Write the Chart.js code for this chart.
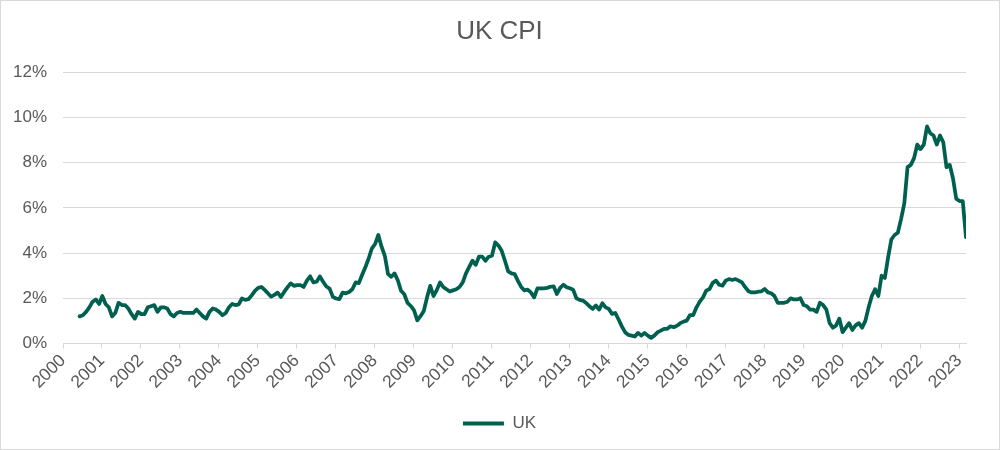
<!DOCTYPE html>
<html>
<head>
<meta charset="utf-8">
<script src="https://cdn.jsdelivr.net/npm/chart.js@4"></script>
<style>
  html, body { margin: 0; padding: 0; background: #fff; }
  #wrap { width: 1000px; height: 450px; position: relative; }
</style>
</head>
<body>
<div id="wrap"><canvas id="c" width="1000" height="450"></canvas></div>
<script>
// ---- data ----
const chartTitle = 'UK CPI';
const seriesName = 'UK';
const yearLabels = ['2000','2001','2002','2003','2004','2005','2006','2007','2008','2009','2010','2011',
                    '2012','2013','2014','2015','2016','2017','2018','2019','2020','2021','2022','2023'];
const firstYear = 2001;   // monthly series starts January 2001
const yTicks = [0, 2, 4, 6, 8, 10, 12];
// annual inflation rate, %, monthly
const ukValues = [
  // 2001
  1.2, 1.25, 1.4, 1.6, 1.85, 1.95, 1.75, 2.1, 1.75, 1.6, 1.2, 1.35,
  // 2002
  1.8, 1.7, 1.7, 1.55, 1.3, 1.1, 1.4, 1.3, 1.3, 1.6, 1.65, 1.7,
  // 2003
  1.4, 1.6, 1.6, 1.55, 1.3, 1.2, 1.35, 1.4, 1.35, 1.35, 1.35, 1.35,
  // 2004
  1.5, 1.35, 1.2, 1.1, 1.4, 1.55, 1.5, 1.4, 1.25, 1.35, 1.6, 1.75,
  // 2005
  1.7, 1.73, 1.99, 1.93, 1.96, 2.13, 2.33, 2.46, 2.5, 2.37, 2.22, 2.07,
  // 2006
  2.15, 2.25, 2.06, 2.28, 2.48, 2.66, 2.55, 2.58, 2.58, 2.5, 2.78, 2.97,
  // 2007
  2.7, 2.73, 2.97, 2.73, 2.52, 2.43, 2.06, 1.99, 1.96, 2.25, 2.22, 2.28,
  // 2008
  2.4, 2.7, 2.67, 3.03, 3.37, 3.75, 4.2, 4.4, 4.8, 4.28, 3.88, 3.07,
  // 2009
  2.95, 3.1, 2.8, 2.33, 2.18, 1.8, 1.66, 1.47, 1.02, 1.21, 1.44, 2.03,
  // 2010
  2.55, 2.1, 2.36, 2.7, 2.5, 2.4, 2.3, 2.35, 2.4, 2.5, 2.7, 3.1,
  // 2011
  3.39, 3.66, 3.48, 3.84, 3.84, 3.66, 3.84, 3.88, 4.47, 4.33, 4.1, 3.66,
  // 2012
  3.19, 3.1, 3.07, 2.77, 2.5, 2.35, 2.38, 2.26, 2.04, 2.44, 2.44, 2.44,
  // 2013
  2.46, 2.51, 2.53, 2.19, 2.46, 2.6, 2.49, 2.44, 2.38, 2.0, 1.93, 1.9,
  // 2014
  1.79, 1.65, 1.53, 1.68, 1.5, 1.78, 1.6, 1.53, 1.31, 1.35, 1.06, 0.76,
  // 2015
  0.5, 0.38, 0.35, 0.31, 0.47, 0.35, 0.47, 0.35, 0.25, 0.35, 0.5, 0.57,
  // 2016
  0.65, 0.65, 0.76, 0.72, 0.79, 0.9, 0.97, 1.01, 1.26, 1.26, 1.6, 1.85,
  // 2017
  2.04, 2.34, 2.41, 2.68, 2.78, 2.6, 2.56, 2.78, 2.85, 2.81, 2.85, 2.78,
  // 2018
  2.7, 2.49, 2.31, 2.26, 2.26, 2.29, 2.31, 2.41, 2.26, 2.22, 2.1, 1.8,
  // 2019
  1.8, 1.8, 1.85, 2.0, 1.95, 1.95, 2.0, 1.7, 1.65, 1.5, 1.5, 1.4,
  // 2020
  1.8, 1.7, 1.5, 0.9, 0.7, 0.8, 1.1, 0.5, 0.7, 0.9, 0.6, 0.8,
  // 2021
  0.9, 0.7, 1.0, 1.6, 2.1, 2.4, 2.1, 3.0, 2.9, 3.8, 4.6, 4.8,
  // 2022
  4.9, 5.5, 6.2, 7.8, 7.9, 8.2, 8.8, 8.6, 8.8, 9.6, 9.3, 9.2,
  // 2023
  8.8, 9.2, 8.9, 7.8, 7.9, 7.3, 6.4, 6.3, 6.3, 4.7
];

// ---- styling / layout ----
const lineColor = '#00604F';
const textColor = '#595959';
const gridColor = '#D9D9D9';
const fontFamily = '"Liberation Sans", Arial, Helvetica, sans-serif';
const tickShift = 0.574; // year labels sit ~7 months after the year start on this axis

const points = ukValues.map((v, i) => ({ x: firstYear + i / 12, y: v }));
const xMin = +yearLabels[0] + tickShift;
const xMax = firstYear + (ukValues.length - 1) / 12;

const frame = {
  id: 'frame',
  beforeDraw(chart) {
    const ctx = chart.ctx;
    ctx.save();
    ctx.fillStyle = '#fff';
    ctx.fillRect(0, 0, chart.width, chart.height);
    ctx.restore();
  },
  afterDraw(chart) {
    const ctx = chart.ctx;
    ctx.save();
    ctx.strokeStyle = gridColor;
    ctx.lineWidth = 1;
    ctx.strokeRect(0.5, 0.5, chart.width - 1, chart.height - 1);
    ctx.restore();
  }
};

new Chart(document.getElementById('c'), {
  type: 'line',
  data: {
    datasets: [{
      label: seriesName,
      data: points,
      borderColor: lineColor,
      backgroundColor: lineColor,
      borderWidth: 3.75,
      pointRadius: 0,
      tension: 0,
      borderJoinStyle: 'round',
      borderCapStyle: 'round',
      fill: false
    }]
  },
  options: {
    responsive: false,
    animation: false,
    devicePixelRatio: 1,
    layout: { padding: { left: 13, right: 14, top: 0, bottom: 8 } },
    plugins: {
      title: {
        display: true,
        text: chartTitle,
        color: textColor,
        font: { family: fontFamily, size: 26, weight: 'normal' },
        padding: { top: 16, bottom: 25 }
      },
      legend: {
        display: true,
        position: 'bottom',
        labels: {
          color: textColor,
          font: { family: fontFamily, size: 17 },
          boxWidth: 41,
          boxHeight: 4,
          useBorderRadius: true,
          borderRadius: 2,
          padding: 10,
          generateLabels(chart) {
            return chart.data.datasets.map((ds, i) => ({
              text: ds.label,
              fillStyle: ds.borderColor,
              strokeStyle: ds.borderColor,
              lineWidth: 0,
              fontColor: textColor,
              datasetIndex: i,
              hidden: false
            }));
          }
        }
      },
      tooltip: { enabled: false }
    },
    scales: {
      x: {
        type: 'linear',
        min: xMin,
        max: xMax,
        afterBuildTicks(axis) {
          axis.ticks = yearLabels.map(y => ({ value: +y + tickShift }));
        },
        afterFit(axis) { axis.height = 61.5; },
        ticks: {
          color: textColor,
          font: { family: fontFamily, size: 17.5 },
          autoSkip: false,
          minRotation: 45,
          maxRotation: 45,
          padding: 2,
          callback(value, index) { return yearLabels[index]; }
        },
        grid: {
          drawOnChartArea: false,
          drawTicks: true,
          tickLength: 5,
          color: gridColor
        },
        border: { display: true, color: gridColor }
      },
      y: {
        min: 0,
        max: 12,
        afterBuildTicks(axis) {
          axis.ticks = yTicks.map(v => ({ value: v }));
        },
        afterFit(axis) { axis.width = 50; },
        ticks: {
          color: textColor,
          font: { family: fontFamily, size: 17 },
          padding: 16,
          callback(value) { return value + '%'; }
        },
        grid: { color: gridColor, drawTicks: false },
        border: { display: false }
      },
      // empty right-hand spacer so the plot ends where the reference's does
      yRight: {
        type: 'linear',
        position: 'right',
        min: 0,
        max: 12,
        afterFit(axis) { axis.width = 20; },
        ticks: { display: false },
        grid: { display: false, drawOnChartArea: false, drawTicks: false },
        border: { display: false }
      }
    }
  },
  plugins: [frame]
});
</script>
</body>
</html>
